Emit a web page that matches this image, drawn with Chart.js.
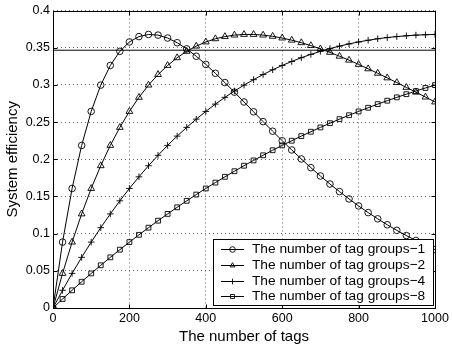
<!DOCTYPE html>
<html>
<head>
<meta charset="utf-8">
<script src="https://cdn.jsdelivr.net/npm/chart.js@4"></script>
<style>
html,body{margin:0;padding:0;background:#fff;}
#wrap{width:452px;height:348px;position:relative;}
</style>
</head>
<body>
<div id="wrap"><canvas id="c" width="452" height="348"></canvas></div>
<script>
const tags = [0,25,50,75,100,125,150,175,200,225,250,275,300,325,350,375,400,425,450,475,500,525,550,575,600,625,650,675,700,725,750,775,800,825,850,875,900,925,950,975,1000];

const groups1 = [0,0.0886,0.1607,0.2186,0.2643,0.2997,0.3261,0.3451,0.3577,0.3649,0.3678,0.3669,0.3630,0.3567,0.3484,0.3385,0.3275,0.3156,0.3031,0.2902,0.2770,0.2638,0.2506,0.2377,0.2249,0.2125,0.2004,0.1887,0.1775,0.1667,0.1565,0.1466,0.1372,0.1283,0.1199,0.1119,0.1044,0.0974,0.0908,0.0845,0.0786];

const groups2 = [0,0.0465,0.0886,0.1265,0.1607,0.1913,0.2186,0.2428,0.2643,0.2832,0.2997,0.3139,0.3261,0.3365,0.3451,0.3521,0.3577,0.3620,0.3649,0.3669,0.3678,0.3678,0.3669,0.3653,0.3630,0.3601,0.3567,0.3528,0.3484,0.3437,0.3385,0.3332,0.3275,0.3216,0.3156,0.3094,0.3031,0.2966,0.2902,0.2836,0.2770];

const groups4 = [0,0.0238,0.0465,0.0681,0.0886,0.1080,0.1265,0.1441,0.1607,0.1764,0.1913,0.2053,0.2186,0.2311,0.2428,0.2539,0.2643,0.2741,0.2832,0.2917,0.2997,0.3070,0.3139,0.3203,0.3261,0.3315,0.3365,0.3410,0.3451,0.3488,0.3521,0.3551,0.3577,0.3600,0.3620,0.3636,0.3649,0.3660,0.3669,0.3674,0.3678];

const groups8 = [0,0.0121,0.0238,0.0353,0.0465,0.0574,0.0681,0.0784,0.0886,0.0984,0.1080,0.1174,0.1265,0.1354,0.1441,0.1525,0.1607,0.1686,0.1764,0.1839,0.1913,0.1984,0.2053,0.2121,0.2186,0.2249,0.2311,0.2370,0.2428,0.2485,0.2539,0.2592,0.2643,0.2692,0.2741,0.2787,0.2832,0.2875,0.2917,0.2958,0.2997];

const refLineX = [0,1000];
const refLineY = [0.3466,0.3466];

const xTicks = [0,200,400,600,800,1000];
const yTicks = [0,0.05,0.1,0.15,0.2,0.25,0.3,0.35,0.4];

const seriesLabels = ["The number of tag groups\u22121","The number of tag groups\u22122","The number of tag groups\u22124","The number of tag groups\u22128"];
const seriesStyles = ["circle","triangle","cross","rect"];

const xTitle = "The number of tags";
const yTitle = "System efficiency";

const FONT = "'Liberation Sans', Arial, Helvetica, sans-serif";

function pts(xs, ys){ return xs.map((x,i)=>({x:x, y:ys[i]})); }
function markerRadius(s){ return s==='rect' ? 3.4 : (s==='triangle' ? 3.9 : 3.3); }

const seriesData = [groups1, groups2, groups4, groups8];
const datasets = seriesData.map((d,i)=>({
  label: seriesLabels[i],
  data: pts(tags,d),
  borderColor:'#000',
  borderWidth:1,
  pointStyle: seriesStyles[i],
  pointRadius: markerRadius(seriesStyles[i]),
  pointBorderWidth: 0.9,
  pointBorderColor:'#000',
  pointBackgroundColor:'rgba(0,0,0,0)',
  fill:false,
  tension:0
}));
datasets.push({
  label:'ref',
  data: pts(refLineX, refLineY),
  borderColor:'#000',
  borderWidth:1,
  pointRadius:0,
  fill:false
});

const boxPlugin = {
  id:'boxPlugin',
  afterDraw(chart){
    const {ctx, chartArea:a} = chart;
    const xs = chart.scales.x, ys = chart.scales.y;
    ctx.save();
    ctx.strokeStyle='#000';
    ctx.lineWidth=1;
    const l=Math.round(a.left)+0.5, t=Math.round(a.top)+0.5, r=Math.round(a.right)+0.5, b=Math.round(a.bottom)+0.5;
    ctx.strokeRect(l, t, r-l, b-t);
    ctx.beginPath();
    xTicks.forEach(v=>{ const px=Math.round(xs.getPixelForValue(v))+0.5; ctx.moveTo(px,b); ctx.lineTo(px,b-4); ctx.moveTo(px,t); ctx.lineTo(px,t+4); });
    yTicks.forEach(v=>{ const py=Math.round(ys.getPixelForValue(v))+0.5; ctx.moveTo(l,py); ctx.lineTo(l+4,py); ctx.moveTo(r,py); ctx.lineTo(r-4,py); });
    ctx.stroke();
    // legend
    const L=213, T=239, R=433, B=305;
    ctx.fillStyle='#fff';
    ctx.fillRect(L,T,R-L,B-T);
    ctx.strokeRect(L+0.5,T+0.5,R-L,B-T);
    const rows=[248.5,264.5,280.5,295.5];
    ctx.textBaseline='middle';
    ctx.textAlign='left';
    for(let i=0;i<4;i++){
      const y=Math.round(rows[i])+0.5;
      ctx.beginPath();
      ctx.moveTo(221,y);
      ctx.lineTo(244,y);
      ctx.strokeStyle='#000';
      ctx.lineWidth=1;
      ctx.stroke();
      ctx.fillStyle='rgba(0,0,0,0)';
      ctx.strokeStyle='#000';
      ctx.lineWidth=0.9;
      Chart.helpers.drawPoint(ctx,{pointStyle:seriesStyles[i], radius: seriesStyles[i]==='rect'?2.8:2.8, borderWidth:0.9, rotation:0}, 232.5, y);
      ctx.fillStyle='#000';
      ctx.font = "13.7px " + FONT;
      ctx.fillText(seriesLabels[i], 252, rows[i]+0.5);
    }
    ctx.restore();
  }
};

new Chart(document.getElementById('c'), {
  type:'line',
  data:{datasets:datasets},
  options:{
    responsive:false,
    animation:false,
    devicePixelRatio:1,
    layout:{padding:{left:4,right:17,top:8,bottom:2}},
    plugins:{legend:{display:false}, tooltip:{enabled:false}},
    scales:{
      x:{
        type:'linear', min:0, max:1000,
        afterFit(s){ s.height = 38; },
        afterBuildTicks(s){ s.ticks = xTicks.map(v=>({value:v})); },
        ticks:{color:'#000', font:{family:FONT,size:12.5}, padding:3, maxRotation:0, callback:(v)=>String(v)},
        grid:{color:'#666', lineWidth:1, drawTicks:false},
        border:{display:false, dash:[1,3]},
        title:{display:true, text:xTitle, color:'#000', font:{family:FONT,size:15}, padding:{top:0,bottom:0}}
      },
      y:{
        min:0, max:0.4,
        afterFit(s){ s.width = 49; },
        afterBuildTicks(s){ s.ticks = yTicks.map(v=>({value:v})); },
        ticks:{color:'#000', font:{family:FONT,size:12.5}, padding:3, callback:(v)=>String(Number(v.toFixed(2)))},
        grid:{color:'#666', lineWidth:1, drawTicks:false},
        border:{display:false, dash:[1,3]},
        title:{display:true, text:yTitle, color:'#000', font:{family:FONT,size:15}, padding:{top:0,bottom:2}}
      }
    }
  },
  plugins:[boxPlugin]
});
</script>
</body>
</html>
